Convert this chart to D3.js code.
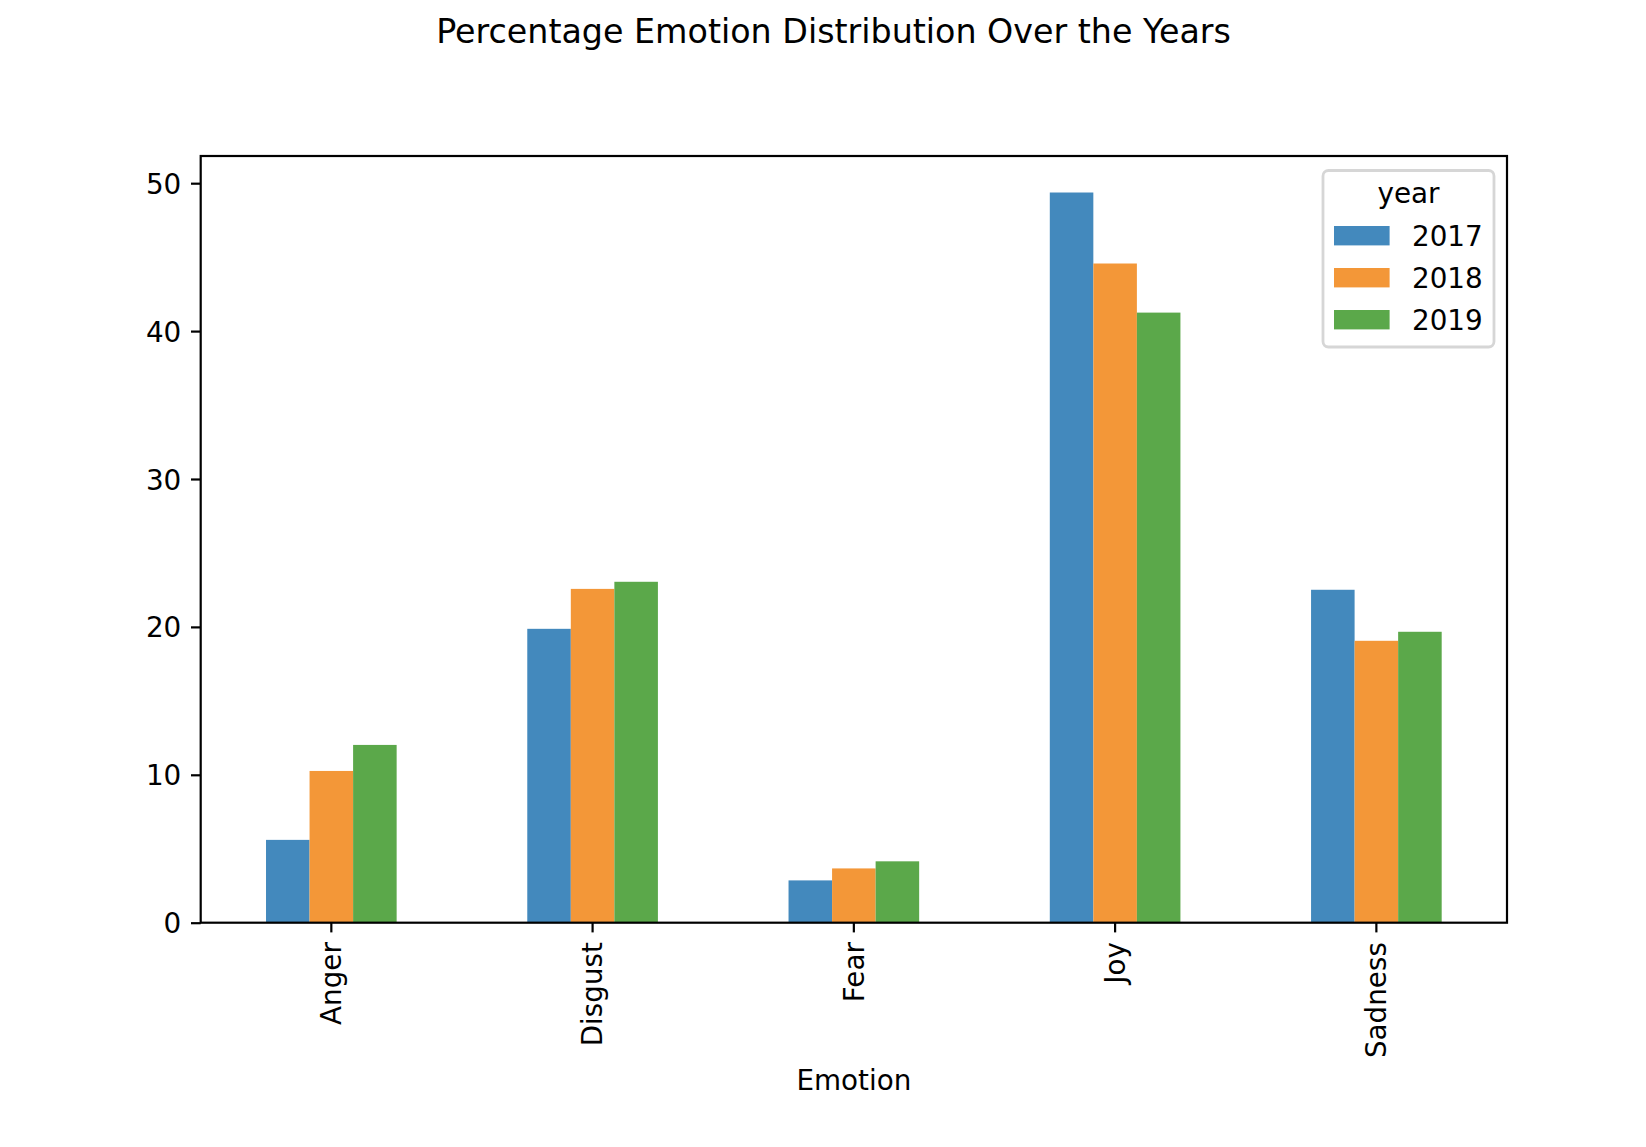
<!DOCTYPE html>
<html>
<head>
<meta charset="utf-8">
<script src="https://cdn.jsdelivr.net/npm/d3@7/dist/d3.min.js"></script>
<style>
  html, body { margin: 0; padding: 0; background: #fff; }
  svg { display: block; font-family: "DejaVu Sans", sans-serif; }
</style>
</head>
<body>
<svg id="chart" width="1646" height="1147"></svg>
<script>
const categories = ["Anger", "Disgust", "Fear", "Joy", "Sadness"];
const years = ["2017", "2018", "2019"];
const values2017 = [5.6, 19.87, 2.86, 49.37, 22.51];
const values2018 = [10.26, 22.57, 3.67, 44.57, 19.06];
const values2019 = [12.02, 23.05, 4.15, 41.25, 19.67];
const yTicks = [0, 10, 20, 30, 40, 50];
const colors = ["#4389bd", "#f39738", "#5ba84a"];
const titleText = "Percentage Emotion Distribution Over the Years";
const xLabelText = "Emotion";
const legendTitle = "year";

const series = [values2017, values2018, values2019];

const plotL = 200.7, plotR = 1507, plotT = 156, plotB = 922.7;
const fs = 27.8;

const svg = d3.select("#chart");

const x = d3.scaleBand().domain(categories).range([plotL, plotR]).paddingInner(0.5).paddingOuter(0.25);
const xi = d3.scaleBand().domain(years).range([0, x.bandwidth()]);
const yMax = d3.max(series.flat()) * 1.05;
const y = d3.scaleLinear().domain([0, yMax]).range([plotB, plotT]);

// bars
years.forEach((yr, si) => {
  svg.append("g").selectAll("rect").data(categories).join("rect")
    .attr("x", c => x(c) + xi(yr))
    .attr("width", xi.bandwidth())
    .attr("y", (c, i) => y(series[si][i]))
    .attr("height", (c, i) => y(0) - y(series[si][i]))
    .attr("fill", colors[si]);
});

// axes
const yAxis = d3.axisLeft(y).tickValues(yTicks).tickSize(9.7).tickPadding(9.7).tickFormat(d3.format("d"));
const gy = svg.append("g").attr("transform", `translate(${plotL},0)`).call(yAxis);
gy.select(".domain").remove();
gy.selectAll(".tick line").attr("stroke", "#000").attr("stroke-width", 2.2);
gy.selectAll(".tick text").attr("font-size", fs).attr("fill", "#000").attr("font-family", "DejaVu Sans").attr("dy", "0.36em");

const xAxis = d3.axisBottom(x).tickSize(9.7).tickPadding(0);
const gx = svg.append("g").attr("transform", `translate(0,${plotB})`).call(xAxis);
gx.select(".domain").remove();
gx.selectAll(".tick line").attr("stroke", "#000").attr("stroke-width", 2.2);
gx.selectAll(".tick text")
  .attr("font-size", fs).attr("fill", "#000").attr("font-family", "DejaVu Sans")
  .attr("text-anchor", "end")
  .attr("transform", "translate(0,19.4) rotate(-90)")
  .attr("x", 0).attr("y", 0).attr("dy", "0.35em");

// frame
svg.append("rect").attr("x", plotL).attr("y", plotT).attr("width", plotR - plotL).attr("height", plotB - plotT)
  .attr("fill", "none").attr("stroke", "#000").attr("stroke-width", 2.2);

// x label
svg.append("text").attr("x", (plotL + plotR) / 2).attr("y", 1090).attr("text-anchor", "middle")
  .attr("font-size", fs).text(xLabelText);

// title
svg.append("text").attr("x", 833.5).attr("y", 42.7).attr("text-anchor", "middle")
  .attr("font-size", 33.3).text(titleText);

// legend
const lg = svg.append("g");
lg.append("rect").attr("x", 1323).attr("y", 170.5).attr("width", 171).attr("height", 176.5)
  .attr("rx", 5.5).attr("fill", "#fff").attr("fill-opacity", 0.8)
  .attr("stroke", "#d6d6d6").attr("stroke-width", 2.8);
lg.append("text").attr("x", 1408.5).attr("y", 203).attr("text-anchor", "middle").attr("font-size", fs).text(legendTitle);
years.forEach((yr, i) => {
  const yy = 226 + i * 42;
  lg.append("rect").attr("x", 1334).attr("y", yy).attr("width", 55.6).attr("height", 19.4).attr("fill", colors[i]);
  lg.append("text").attr("x", 1412).attr("y", yy + 9.7).attr("dy", "0.36em").attr("font-size", fs).text(yr);
});
</script>
</body>
</html>
